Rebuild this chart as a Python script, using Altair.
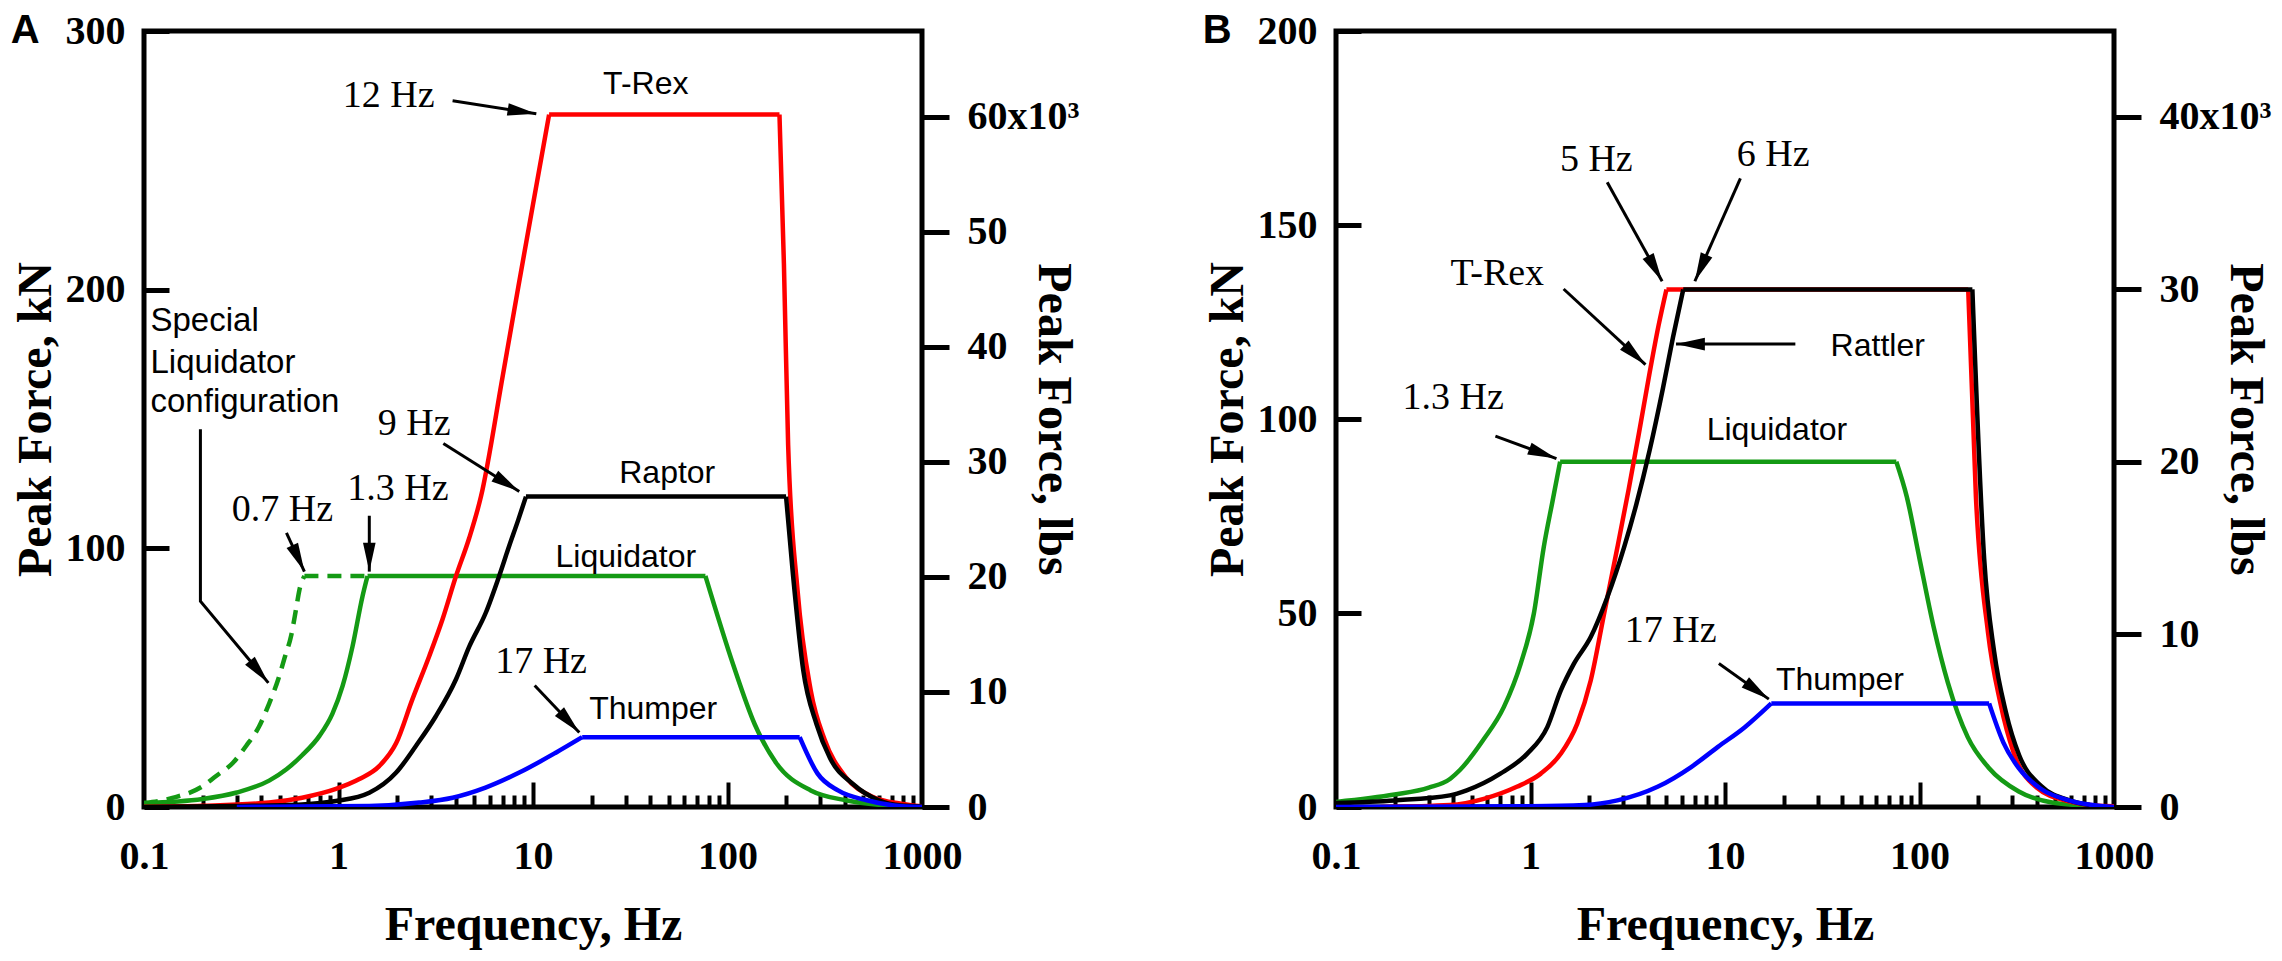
import math
import altair as alt
import pandas as pd

KN_TO_LBS = 224.809
W, H = 778, 776
SERIF = "Liberation Serif"
SANS = "Liberation Sans"
ARROW = "M0,0L-0.35,1.6L0.35,1.6Z"
GREEN = "#149a14"

# ---------------- Panel A data (frequency Hz, peak force kN) ----------------
a_trex_f = [0.1, 0.2, 0.44, 0.65, 0.97, 1.28, 1.62, 1.98, 2.4, 2.93, 3.43, 4.02, 4.7, 5.4, 7.0, 8.4, 10, 12.1,
            185, 195, 205, 229, 268, 316, 405, 560, 780, 1000]
a_trex_kn = [0.1, 0.5, 1.7, 3.6, 7, 10.8, 15.8, 24.7, 41.7, 58.4, 72.7, 89.3, 104, 120, 167, 201, 233, 267.7,
             267.7, 210, 140, 84, 45, 26, 11.6, 3.9, 1.3, 0.3]
a_raptor_f = [0.1, 0.3, 0.65, 0.97, 1.44, 1.98, 2.5, 3.16, 4.02, 4.7, 5.71, 6.7, 7.55, 8.4, 9.2,
              200, 217, 245, 287, 336, 440, 600, 780, 1000]
a_raptor_kn = [0, 0.4, 1, 2.3, 5.5, 13.3, 23.6, 35, 49.4, 62, 75, 89.3, 101, 111, 120,
               120, 90, 53, 32, 19, 9, 2.6, 0.6, 0.2]
a_liq_f = [0.1, 0.2, 0.3, 0.44, 0.54, 0.65, 0.80, 0.93, 1.05, 1.18, 1.33, 1.41,
           77, 107, 138, 178, 268, 405, 660, 1000]
a_liq_kn = [1.5, 3.1, 5.6, 10.2, 14.6, 20, 27.6, 36, 46.8, 62, 81.6, 89.3,
            89.3, 55, 32, 17, 6.4, 2.6, 0.6, 0.1]
a_special_f = [0.1, 0.14, 0.2, 0.235, 0.286, 0.335, 0.39, 0.44, 0.49, 0.53, 0.57, 0.605, 0.63, 0.668, 1.41]
a_special_kn = [1.5, 3.5, 8, 12, 17, 23.6, 31, 40, 49.4, 58, 66, 76.5, 84, 89.3, 89.3]
a_thump_f = [0.3, 0.44, 1.44, 2.6, 3.86, 5.7, 8.5, 13.1, 17.9, 235, 290, 370, 520, 720, 1000]
a_thump_kn = [0, 0.1, 0.4, 1.7, 3.6, 7.5, 13.3, 21, 27, 27, 13, 6.4, 2.6, 0.6, 0]

a_serif_text = ["12 Hz", "9 Hz", "0.7 Hz", "1.3 Hz", "17 Hz"]
a_serif_f = [1.81, 2.45, 0.515, 2.02, 11]
a_serif_kn = [275, 148, 115, 123, 56]
a_sans_text = ["T-Rex", "Raptor", "Liquidator", "Thumper"]
a_sans_f = [38, 49, 30, 41.5]
a_sans_kn = [279.5, 129, 96.5, 38]
a_note_text = ["Special", "Liquidator", "configuration"]
a_note_f = [0.108, 0.108, 0.108]
a_note_kn = [187.7, 171.5, 156.7]
a_arrows = [
    [(3.86, 273), (10.4, 268)],
    [(3.46, 140.5), (8.5, 122)],
    [(0.54, 106), (0.668, 91)],
    [(1.44, 112.6), (1.44, 91)],
    [(10.2, 47), (17.3, 28.8)],
    [(0.195, 146), (0.195, 79.6), (0.436, 48)],
]

# ---------------- Panel B data ----------------
b_trex_f = [0.17, 0.385, 0.575, 0.85, 1.13, 1.43, 1.74, 2.04, 2.39, 2.8, 3.2, 3.6, 4.1, 4.55, 5.0,
            178, 195, 225, 260, 305, 400, 580, 800, 1000]
b_trex_kn = [0, 0.5, 2.1, 5.2, 8.6, 13.7, 21.5, 32.6, 49.8, 67, 82, 96, 112, 124, 133.4,
             133.4, 80, 45, 27, 14, 5, 1.5, 0.4, 0.2]
b_rattler_f = [0.1, 0.2, 0.385, 0.47, 0.70, 0.96, 1.22, 1.43, 1.67, 2.04, 2.48, 3.03, 3.5, 4.1, 4.8, 5.4, 6.1,
               187, 215, 242, 278, 325, 420, 600, 750]
b_rattler_kn = [1, 1.7, 3, 4.3, 8.6, 13.7, 20.6, 30, 36.9, 43.8, 54, 67, 78, 92, 108, 121, 133.4,
                133.4, 64, 40, 24.5, 13.4, 5.5, 1.6, 0.5]
b_liq_f = [0.1, 0.2, 0.3, 0.387, 0.435, 0.57, 0.73, 0.89, 1.04, 1.17, 1.3, 1.42,
           76, 86, 100, 118, 140, 177, 228, 324, 487, 770]
b_liq_kn = [1.3, 3.2, 5.0, 7.3, 9.6, 17.2, 25.8, 36.9, 49.8, 67, 79, 89,
            89, 80, 64, 46.6, 32, 18, 10, 4, 1.1, 0.3]
b_thump_f = [0.1, 1, 1.9, 2.8, 4.5, 6.7, 9.2, 12.6, 17.3, 228, 270, 324, 420, 600, 1000]
b_thump_kn = [0, 0.2, 0.5, 1.7, 5.2, 10.3, 15.5, 20.5, 26.7, 26.7, 16.6, 10, 4.7, 1.6, 0]

b_serif_text = ["5 Hz", "6 Hz", "T-Rex", "1.3 Hz", "17 Hz"]
b_serif_f = [2.18, 17.7, 0.675, 0.40, 5.26]
b_serif_kn = [166.7, 168, 137.4, 105.4, 45.3]
b_sans_text = ["Rattler", "Liquidator", "Thumper"]
b_sans_f = [61, 18.5, 39]
b_sans_kn = [118.8, 97.2, 32.7]
b_arrows = [
    [(2.48, 161), (4.75, 135.5)],
    [(12, 162), (7.0, 135.5)],
    [(1.48, 133.5), (3.9, 114)],
    [(23, 119.3), (5.6, 119.3)],
    [(0.66, 95.6), (1.36, 89.8)],
    [(9.3, 37), (16.8, 27.8)],
]

x_labels = [0.1, 1, 10, 100, 1000]
x_minor = [k * 10.0 ** e for e in (-1, 0, 1, 2) for k in range(2, 10)]
x_major_inner = [1, 10, 100]


def to_px(f, kn, ymax):
    return ((math.log10(f) + 1) / 4 * W, H * (1 - kn / ymax))


def segments(f, kn):
    """Split a curve into rise / plateau / fall pieces so the plateau corners stay sharp."""
    top = max(kn)
    p0 = kn.index(top)
    p1 = len(kn) - 1 - kn[::-1].index(top)
    rows = []
    for seg, (a, b) in enumerate([(0, p0), (p0, p1), (p1, len(kn) - 1)]):
        for i in range(a, b + 1):
            rows.append({"seg": seg, "i": i, "f": f[i], "kn": kn[i]})
    return pd.DataFrame(rows)


def build_panel(letter, curves, ymax, kn_ticks, lbs_ticks, serif, sans, notes, arrows):
    xs = alt.Scale(type="log", domain=[0.1, 1000], nice=False)
    ys = alt.Scale(domain=[0, ymax], nice=False, zero=False)

    x_main = alt.Axis(values=x_labels, format="~g", ticks=False, tickSize=0, domain=False, grid=False,
                      labelFont=SERIF, labelFontSize=40, labelFontWeight="bold", labelColor="black",
                      labelPadding=29, labelFlush=False, labelOverlap=False,
                      title="Frequency, Hz", titleFont=SERIF, titleFontSize=48, titleFontWeight="bold",
                      titleColor="black", titleX=W / 2, titleY=118, titleBaseline="middle", titleAlign="center")
    y_left = alt.Axis(orient="left", values=kn_ticks, ticks=False, tickSize=0, domain=False, grid=False,
                      labelFont=SERIF, labelFontSize=40, labelFontWeight="bold", labelColor="black",
                      labelPadding=19, labelOverlap=False,
                      title="Peak Force, kN", titleFont=SERIF, titleFontSize=48, titleFontWeight="bold",
                      titleColor="black", titleX=-108, titleY=H / 2, titleAngle=270,
                      titleBaseline="middle", titleAlign="center")

    layers = []
    for n, (f, kn, color, dash) in enumerate(curves):
        kw = dict(color=color, strokeWidth=4.5, clip=True, interpolate="monotone")
        if dash:
            kw["strokeDash"] = dash
        layers.append(alt.Chart(segments(f, kn)).mark_line(**kw).encode(
            x=alt.X("f:Q", scale=xs, axis=x_main if n == 0 else None),
            y=alt.Y("kn:Q", scale=ys, axis=y_left if n == 0 else None),
            detail="seg:N", order="i:Q",
        ))

    # arrows
    rows, heads = [], []
    for aid, pts in enumerate(arrows):
        for s, (f, kn) in enumerate(pts):
            rows.append({"id": aid, "seq": s, "f": f, "kn": kn})
        (x1, y1), (x2, y2) = to_px(*pts[-2], ymax), to_px(*pts[-1], ymax)
        ang = math.degrees(math.atan2(x2 - x1, -(y2 - y1))) % 360
        heads.append({"f": pts[-1][0], "kn": pts[-1][1], "ang": ang})
    layers.append(alt.Chart(pd.DataFrame(rows)).mark_line(color="black", strokeWidth=3).encode(
        x=alt.X("f:Q", scale=xs, axis=None), y=alt.Y("kn:Q", scale=ys, axis=None),
        detail="id:N", order="seq:Q"))
    layers.append(alt.Chart(pd.DataFrame(heads)).mark_point(shape=ARROW, filled=True, size=1300,
                                                               color="black", opacity=1, strokeWidth=0).encode(
        x=alt.X("f:Q", scale=xs, axis=None), y=alt.Y("kn:Q", scale=ys, axis=None),
        angle=alt.Angle("ang:Q", scale=None)))

    # texts
    st, sf, sk = serif
    layers.append(alt.Chart(pd.DataFrame({"t": st, "f": sf, "kn": sk})).mark_text(
        font=SERIF, fontSize=38, color="black", align="center", baseline="middle").encode(
        x=alt.X("f:Q", scale=xs, axis=None), y=alt.Y("kn:Q", scale=ys, axis=None), text="t:N"))
    at, af, ak = sans
    layers.append(alt.Chart(pd.DataFrame({"t": at, "f": af, "kn": ak})).mark_text(
        font=SANS, fontSize=32, color="black", align="center", baseline="middle").encode(
        x=alt.X("f:Q", scale=xs, axis=None), y=alt.Y("kn:Q", scale=ys, axis=None), text="t:N"))
    if notes:
        nt, nf, nk = notes
        layers.append(alt.Chart(pd.DataFrame({"t": nt, "f": nf, "kn": nk})).mark_text(
            font=SANS, fontSize=33, color="black", align="left", baseline="middle").encode(
            x=alt.X("f:Q", scale=xs, axis=None), y=alt.Y("kn:Q", scale=ys, axis=None), text="t:N"))
    # panel letter
    layers.append(alt.Chart(pd.DataFrame({"t": [letter], "f": [0.0245], "kn": [ymax]})).mark_text(
        font=SANS, fontSize=40, fontWeight="bold", color="black", align="center", baseline="middle").encode(
        x=alt.X("f:Q", scale=xs, axis=None), y=alt.Y("kn:Q", scale=ys, axis=None), text="t:N"))

    # tick-only axes (inward ticks) and the lbs axis on the right
    tick_df = pd.DataFrame({"f": [1.0], "kn": [0.0], "lbs": [0.0]})
    minor_ax = alt.Axis(orient="bottom", values=x_minor, labels=False, domain=False, grid=False, title=None,
                        tickSize=12, tickWidth=4, tickColor="black", offset=-12)
    major_ax = alt.Axis(orient="bottom", values=x_major_inner, labels=False, domain=False, grid=False, title=None,
                        tickSize=25, tickWidth=4, tickColor="black", offset=-25)
    kn_in_ax = alt.Axis(orient="left", values=kn_ticks, labels=False, domain=False, grid=False, title=None,
                        tickSize=25, tickWidth=5, tickColor="black", offset=-25)
    top = lbs_ticks[-1]
    lbs_ax = alt.Axis(orient="right", values=lbs_ticks, domain=False, grid=False,
                      tickSize=27, tickWidth=5, tickColor="black",
                      labelFont=SERIF, labelFontSize=40, labelFontWeight="bold", labelColor="black",
                      labelPadding=18, labelOverlap=False,
                      labelExpr=f"datum.value == {top} ? '{top // 1000}x10³' : format(datum.value / 1000, 'd')",
                      title="Peak Force, lbs", titleFont=SERIF, titleFontSize=48, titleFontWeight="bold",
                      titleColor="black", titleX=130, titleY=H / 2, titleAngle=90,
                      titleBaseline="middle", titleAlign="center")
    layers.append(alt.Chart(tick_df).mark_point(opacity=0).encode(
        x=alt.X("f:Q", scale=xs, axis=minor_ax), y=alt.Y("kn:Q", scale=ys, axis=kn_in_ax)))
    layers.append(alt.Chart(tick_df).mark_point(opacity=0).encode(
        x=alt.X("f:Q", scale=xs, axis=major_ax)))
    layers.append(alt.Chart(tick_df).mark_point(opacity=0).encode(
        y=alt.Y("lbs:Q", scale=alt.Scale(domain=[0, ymax * KN_TO_LBS], nice=False, zero=False), axis=lbs_ax)))

    return (alt.layer(*layers)
            .resolve_scale(y="independent")
            .resolve_axis(x="independent", y="independent")
            .properties(width=W, height=H))


panel_a = build_panel(
    "A",
    [(a_liq_f, a_liq_kn, GREEN, None),
     (a_special_f, a_special_kn, GREEN, [14, 9]),
     (a_trex_f, a_trex_kn, "#ff0000", None),
     (a_raptor_f, a_raptor_kn, "#000000", None),
     (a_thump_f, a_thump_kn, "#0000ff", None)],
    300, [0, 100, 200, 300], [0, 10000, 20000, 30000, 40000, 50000, 60000],
    (a_serif_text, a_serif_f, a_serif_kn), (a_sans_text, a_sans_f, a_sans_kn),
    (a_note_text, a_note_f, a_note_kn), a_arrows)

panel_b = build_panel(
    "B",
    [(b_liq_f, b_liq_kn, GREEN, None),
     (b_trex_f, b_trex_kn, "#ff0000", None),
     (b_rattler_f, b_rattler_kn, "#000000", None),
     (b_thump_f, b_thump_kn, "#0000ff", None)],
    200, [0, 50, 100, 150, 200], [0, 10000, 20000, 30000, 40000],
    (b_serif_text, b_serif_f, b_serif_kn), (b_sans_text, b_sans_f, b_sans_kn),
    None, b_arrows)

chart = (alt.hconcat(panel_a, panel_b, spacing=414, bounds="flush")
         .properties(padding={"left": 0, "top": 0, "right": 0, "bottom": 0}, background="white")
         .configure_view(stroke="black", strokeWidth=5))

chart.save("out.html", embed_options={"renderer": "svg", "actions": False})
